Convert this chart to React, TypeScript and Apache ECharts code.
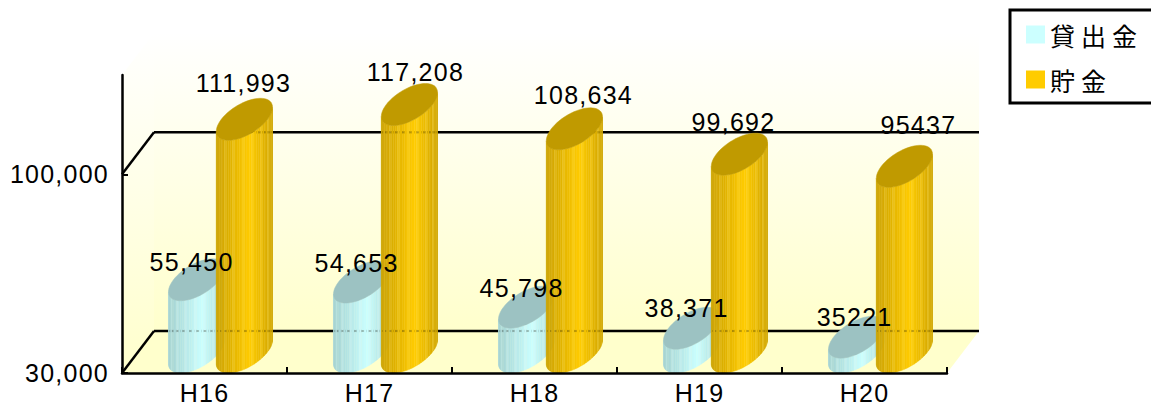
import React, { useEffect, useRef } from "react";
import * as echarts from "echarts";

const categories = ["H16", "H17", "H18", "H19", "H20"];
const loanValues = [55450, 54653, 45798, 38371, 35221];
const savingValues = [111993, 117208, 108634, 99692, 95437];
const loanLabels = ["55,450", "54,653", "45,798", "38,371", "35221"];
const savingLabels = ["111,993", "117,208", "108,634", "99,692", "95437"];
const seriesNames = ["貸出金", "貯金"];
const yTicks = [30000, 100000];
const yTickLabels = ["30,000", "100,000"];

const Y_MIN = 30000;
const Y_MAX = 135000;
const DEPTH_X = 32;
const DEPTH_Y = -42;
// hand placement of the value labels relative to the top of each cylinder
const loanNudgeX = [-5, -5, -5, -5, -2];
const loanNudgeY = [-18, -19, -19, -20, -20];
const savingNudgeX = [-1, 6, 9, -6, 14];
const savingNudgeY = [-36, -32, -34, -32, -41];

const LATIN = '"Liberation Sans", Arial, sans-serif';

const mix2 = (a: number[], b: number[], f: number) => a.map((v, i) => v + (b[i] - v) * f);
const rgb = (c: number[]) => `rgb(${c.map((v) => Math.round(v)).join(",")})`;

function cylinder(api: any, offset: number, light: number[], dark: number[], stripe: number[], topColor: string) {
  const cat = api.value(0);
  const val = api.value(1);
  const band = api.size([1, 0])[0];
  const top = api.coord([cat, val]);
  const base = api.coord([cat, Y_MIN]);
  const cx = top[0] + band * offset + DEPTH_X / 2;
  const topY = top[1] + DEPTH_Y / 2;
  const baseY = base[1] + DEPTH_Y / 2;
  const ux = band * 0.14;
  const vx = DEPTH_X / 2;
  const vy = DEPTH_Y / 2;
  const t0 = Math.atan2(vx, ux);
  const xr = Math.hypot(ux, vx);
  const pt = (t: number, y: number) => [cx + ux * Math.cos(t) + vx * Math.sin(t), y + vy * Math.sin(t)];
  const gridYs = [api.coord([cat, Y_MIN])[1] + DEPTH_Y, api.coord([cat, 100000])[1] + DEPTH_Y];
  const n = 36;
  const children: any[] = [];
  for (let i = 0; i < n; i++) {
    const a = t0 - Math.PI + (Math.PI * i) / n;
    const b = t0 - Math.PI + (Math.PI * (i + 1)) / n;
    const pa = pt(a, baseY);
    const pb = pt(b, baseY);
    const qa = pt(a, topY);
    const qb = pt(b, topY);
    const f = (pa[0] - (cx - xr)) / (2 * xr);
    const bright = f < 0.58 ? 0.25 + (0.75 * f) / 0.58 : 1 - ((f - 0.58) / 0.42) * 0.7;
    const shaded = mix2(dark, light, bright);
    const color = rgb(i % 4 === 1 ? mix2(shaded, stripe, 0.25) : shaded);
    children.push({
      type: "polygon",
      shape: { points: [pa, pb, qb, qa] },
      style: { fill: color, stroke: color, lineWidth: 0.4 },
    });
    if (i % 3 === 0) {
      gridYs.forEach((g) => {
        if (qa[1] < g && g < pa[1]) {
          children.push({
            type: "line",
            shape: { x1: pa[0], y1: g, x2: pb[0], y2: g },
            style: { stroke: "rgba(40,40,20,0.3)", lineWidth: 2 },
          });
        }
      });
    }
  }
  const cap: number[][] = [];
  for (let i = 0; i < 60; i++) cap.push(pt((i / 60) * Math.PI * 2, topY));
  children.push({ type: "polygon", shape: { points: cap }, style: { fill: topColor, stroke: topColor, lineWidth: 0.5 } });
  return { type: "group", children };
}

export default function App() {
  const ref = useRef<HTMLDivElement>(null);
  useEffect(() => {
    const chart = echarts.init(ref.current!, null, { renderer: "svg" });
    const wallFill = new echarts.graphic.LinearGradient(0, 0, 0, 1, [
      { offset: 0, color: "#FFFFFF" },
      { offset: 1, color: "#FFFFCC" },
    ]);
    const frame = (params: any, api: any) => {
      const sys = params.coordSys;
      const l = sys.x;
      const r = sys.x + sys.width;
      const b = api.coord([0, Y_MIN])[1];
      const t = api.coord([0, Y_MAX])[1];
      const g = api.coord([0, 100000])[1];
      const dx = DEPTH_X;
      const dy = DEPTH_Y;
      const line = (x1: number, y1: number, x2: number, y2: number) => ({
        type: "line",
        shape: { x1, y1, x2, y2 },
        style: { stroke: "#000", lineWidth: 2.5 },
      });
      return {
        type: "group",
        children: [
          { type: "polygon", shape: { points: [[l + dx, t + dy], [r + dx, t + dy], [r + dx, b + dy], [l + dx, b + dy]] }, style: { fill: wallFill } },
          { type: "polygon", shape: { points: [[l, t], [l + dx, t + dy], [l + dx, b + dy], [l, b]] }, style: { fill: wallFill } },
          { type: "polygon", shape: { points: [[l, b], [l + dx, b + dy], [r + dx, b + dy], [r, b]] }, style: { fill: "#FFFFCC" } },
          line(l + dx, b + dy, r + dx, b + dy),
          line(l + dx, g + dy, r + dx, g + dy),
          line(l, b, l + dx, b + dy),
          line(l, g, l + dx, g + dy),
        ],
      };
    };
    const labelRender = (_: any, api: any) => {
      const cat = api.value(0);
      const which = api.value(2);
      const band = api.size([1, 0])[0];
      const top = api.coord([cat, api.value(1)]);
      const off = which === 0 ? -0.145 : 0.145;
      const nx = which === 0 ? loanNudgeX[cat] : savingNudgeX[cat];
      const ny = which === 0 ? loanNudgeY[cat] : savingNudgeY[cat];
      const text = which === 0 ? loanLabels[cat] : savingLabels[cat];
      return {
        type: "text",
        style: {
          text,
          x: top[0] + band * off + DEPTH_X / 2 + nx,
          y: top[1] + DEPTH_Y / 2 + ny,
          fill: "#000",
          font: `25px ${LATIN}`,
          textAlign: "center",
          textVerticalAlign: "middle",
        },
      };
    };
    chart.setOption({
      animation: false,
      backgroundColor: "#FFFFFF",
      grid: { left: 122, top: 75, right: 204, bottom: 33 },
      legend: {
        show: true,
        data: seriesNames,
        orient: "vertical",
        left: 1010,
        top: 10,
        padding: [12, 30, 11, 16],
        itemWidth: 19,
        itemHeight: 18,
        itemGap: 20,
        icon: "rect",
        borderColor: "#000",
        borderWidth: 3,
        backgroundColor: "#FFF",
        textStyle: { color: "#000", fontSize: 25, fontFamily: '"Noto Sans CJK JP"', padding: [0, 0, 0, 0] },
      },
      xAxis: {
        type: "category",
        data: categories,
        z: 5,
        axisLine: { show: true, lineStyle: { color: "#000", width: 2.5 } },
        axisTick: { show: true, inside: true, length: 6, lineStyle: { color: "#000", width: 2 } },
        axisLabel: { color: "#000", fontSize: 25, fontFamily: LATIN, margin: 7 },
        splitLine: { show: false },
      },
      yAxis: {
        type: "value",
        min: Y_MIN,
        max: Y_MAX,
        z: 5,
        axisLine: { show: true, lineStyle: { color: "#000", width: 2.5 } },
        axisTick: { show: true, inside: true, length: 6, customValues: yTicks, lineStyle: { color: "#000", width: 2 } },
        axisLabel: {
          color: "#000",
          fontSize: 25,
          fontFamily: LATIN,
          margin: 13,
          customValues: yTicks,
          formatter: (v: number) => yTickLabels[yTicks.indexOf(v)],
        },
        splitLine: { show: false },
      },
      series: [
        {
          type: "custom",
          name: "frame",
          z: -1,
          silent: true,
          clip: false,
          data: [[0, Y_MIN]],
          encode: { x: 0, y: 1 },
          renderItem: frame,
        },
        {
          type: "custom",
          name: seriesNames[0],
          z: 2,
          clip: false,
          itemStyle: { color: "#CCFFFF" },
          data: loanValues.map((v, i) => [i, v]),
          encode: { x: 0, y: 1 },
          renderItem: (_: any, api: any) => cylinder(api, -0.145, [204, 255, 255], [150, 195, 195], [230, 255, 255], "#9CC2C2"),
        },
        {
          type: "custom",
          name: seriesNames[1],
          z: 3,
          clip: false,
          itemStyle: { color: "#FFCC00" },
          data: savingValues.map((v, i) => [i, v]),
          encode: { x: 0, y: 1 },
          renderItem: (_: any, api: any) => cylinder(api, 0.145, [255, 204, 0], [188, 148, 0], [255, 225, 90], "#C09A00"),
        },
        {
          type: "custom",
          name: "labels",
          z: 6,
          silent: true,
          clip: false,
          data: [
            ...loanValues.map((v, i) => [i, v, 0]),
            ...savingValues.map((v, i) => [i, v, 1]),
          ],
          encode: { x: 0, y: 1 },
          renderItem: labelRender,
        },
      ],
    });
    return () => chart.dispose();
  }, []);
  return (
    <>
      <style>{`
        html, body { margin: 0; padding: 0; overflow: hidden; background: #fff; }
        .chart text { letter-spacing: 1.25px; }
        .chart text[style*="CJK"] { letter-spacing: 6px; }
      `}</style>
      <div className="chart" ref={ref} style={{ width: 1151, height: 406 }} />
    </>
  );
}
